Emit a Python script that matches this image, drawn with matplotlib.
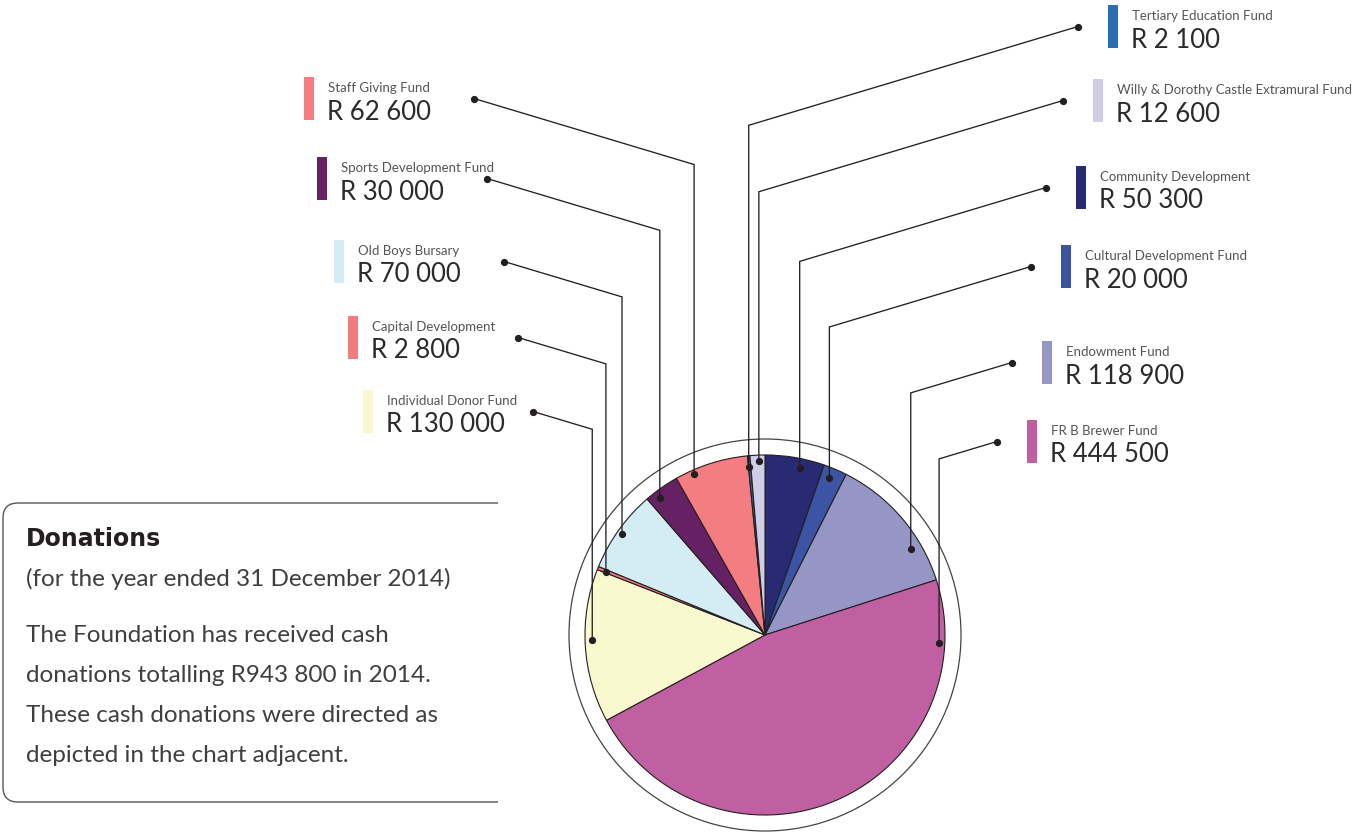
import numpy as np
import matplotlib.pyplot as plt
from matplotlib.path import Path
from matplotlib.patches import PathPatch, Circle

# donations 2014, clockwise from 12 o'clock
funds = ['Community Development', 'Cultural Development Fund', 'Endowment Fund',
         'FR B Brewer Fund', 'Individual Donor Fund', 'Capital Development',
         'Old Boys Bursary', 'Sports Development Fund', 'Staff Giving Fund',
         'Tertiary Education Fund', 'Willy & Dorothy Castle Extramural Fund']
amounts = [50300, 20000, 118900, 444500, 130000, 2800, 70000, 30000, 62600, 2100, 12600]
colors = ['#292a74', '#3b55a4', '#9595c6', '#c060a2', '#faf8cf', '#f27b7d',
          '#d4ecf3', '#662165', '#f37d80', '#2c6cb4', '#cfcee6']

# label layout (pixels): side, colour-bar x, colour-bar top, where the leader dot sits in the slice
bar_x = [1076, 1061, 1042, 1027, 363, 348, 334, 317, 304, 1108, 1093]
bar_top = [166, 245, 341, 420, 390, 316, 240, 157, 77, 5, 79]
side = ['R', 'R', 'R', 'R', 'L', 'L', 'L', 'L', 'L', 'R', 'R']
dot_t = [0.61, 0.4, 0.72, 0.12, 0.54, 0.2, 0.48, 0.3, 0.24, 0.1, 0.58]
dot_r = [0.95, 0.945, 0.94, 0.968, 0.96, 0.95, 0.972, 0.96, 0.978, 0.94, 0.97]

W, H = 1354, 832
cx, cy, R = 765, 635, 180
ink = '#231f20'
plt.rcParams['font.family'] = ['Lato', 'DejaVu Sans']

fig = plt.figure(figsize=(W / 100, H / 100), dpi=100)
ax = fig.add_axes([0, 0, 1, 1])

# y axis is inverted (pixel style), so counterclock=True runs clockwise on screen
ax.pie(amounts, colors=colors, center=(cx, cy), radius=R, startangle=-90,
       counterclock=True, wedgeprops=dict(edgecolor=ink, linewidth=0.8))
ax.add_patch(Circle((cx, cy), 196, fill=False, edgecolor='#444444', linewidth=0.9))

total = float(sum(amounts))
start = -90.0
for i, a in enumerate(amounts):
    width = a / total * 360
    ang = np.radians(start + dot_t[i] * width)
    start += width
    px = cx + dot_r[i] * R * np.cos(ang)
    py = cy + dot_r[i] * R * np.sin(ang)
    if side[i] == 'L':
        lx, ly = bar_x[i] + 170, bar_top[i] + 21.5
    else:
        lx, ly = bar_x[i] - 30, bar_top[i] + 21.5
    ky = ly + 0.3 * abs(px - lx)
    ax.plot([lx, px, px], [ly, ky, py], color=ink, linewidth=0.95, solid_joinstyle='miter')
    ax.plot([lx, px], [ly, py], 'o', color=ink, markersize=4.2, linestyle='none')
    # colour swatch and labels
    ax.add_patch(plt.Rectangle((bar_x[i], bar_top[i]), 10, 43, color=colors[i], linewidth=0))
    ax.text(bar_x[i] + 24, bar_top[i] + 15, funds[i], fontsize=9.5,
            color='#555555', va='baseline', ha='left')
    ax.text(bar_x[i] + 23, bar_top[i] + 42.5, 'R ' + f'{a:,}'.replace(',', ' '),
            fontsize=18.5, color='#2b2b2b', va='baseline', ha='left')

# text panel, open on the right side
x0, x1, y0, y1, r = 3, 498, 503, 802, 15
verts = [(x1, y0), (x0 + r, y0), (x0, y0), (x0, y0 + r), (x0, y1 - r), (x0, y1), (x0 + r, y1), (x1, y1)]
codes = [Path.MOVETO, Path.LINETO, Path.CURVE3, Path.CURVE3, Path.LINETO, Path.CURVE3, Path.CURVE3, Path.LINETO]
ax.add_patch(PathPatch(Path(verts, codes), fill=False, edgecolor='#555555', linewidth=1))

ax.text(26, 546.5, 'Donations', fontsize=17, fontweight='bold', color=ink, va='baseline',
        family='DejaVu Sans')
ax.text(26, 586.5, '(for the year ended 31 December 2014)', fontsize=17.5,
        color='#3f3f3f', va='baseline')
para = ['The Foundation has received cash',
        'donations totalling R943 800 in 2014.',
        'These cash donations were directed as',
        'depicted in the chart adjacent.']
for k, line in enumerate(para):
    ax.text(26, 642.5 + k * 39.7, line, fontsize=17.5, color='#3f3f3f', va='baseline')

ax.set_xlim(0, W)
ax.set_ylim(H, 0)
ax.set_aspect('equal')
ax.axis('off')
fig.savefig('out.png', dpi=100, facecolor='white')
